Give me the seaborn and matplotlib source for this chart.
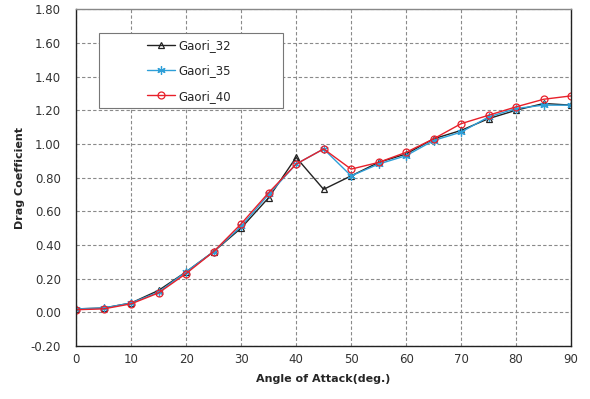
import matplotlib
matplotlib.use("Agg")
import matplotlib.pyplot as plt
from matplotlib.patches import Rectangle
import seaborn as sns
import pandas as pd
from matplotlib.ticker import FuncFormatter, MultipleLocator

angles = [0, 5, 10, 15, 20, 25, 30, 35, 40, 45, 50, 55, 60, 65, 70, 75, 80, 85, 90]
gaori_32 = [0.02, 0.025, 0.055, 0.13, 0.24, 0.36, 0.50, 0.68, 0.92, 0.73, 0.81, 0.89, 0.94, 1.03, 1.08, 1.15, 1.20, 1.24, 1.23]
gaori_35 = [0.02, 0.025, 0.055, 0.12, 0.24, 0.36, 0.51, 0.70, 0.88, 0.97, 0.81, 0.88, 0.93, 1.02, 1.07, 1.16, 1.21, 1.23, 1.23]
gaori_40 = [0.015, 0.02, 0.05, 0.115, 0.23, 0.36, 0.525, 0.71, 0.88, 0.97, 0.85, 0.89, 0.95, 1.03, 1.12, 1.17, 1.22, 1.265, 1.285]
series_names = ["Gaori_32", "Gaori_35", "Gaori_40"]
colors = ["#222222", "#2e9fd8", "#e8202a"]
markers = ["^", "x", "o"]

df = pd.DataFrame({"angle": angles * 3,
                   "cd": gaori_32 + gaori_35 + gaori_40,
                   "series": sum([[n] * len(angles) for n in series_names], [])})

sns.set_style("white")
fig = plt.figure(figsize=(5.9, 3.99), dpi=100)
ax = fig.add_axes([0.129, 0.133, 0.839, 0.844])

for name, c, m in zip(series_names, colors, markers):
    sub = df[df["series"] == name]
    mk = dict(marker=m, markersize=5, markerfacecolor="none", markeredgecolor=c, markeredgewidth=0.9)
    if m == "x":
        mk = dict(marker=(6, 2, 0), markersize=6, markeredgecolor=c, markeredgewidth=0.9)
    sns.lineplot(data=sub, x="angle", y="cd", ax=ax, color=c, linewidth=1.0,
                 label=name, **mk)

ax.set_xlim(0, 90)
ax.set_ylim(-0.2, 1.8)
ax.xaxis.set_major_locator(MultipleLocator(10))
ax.yaxis.set_major_locator(MultipleLocator(0.2))
ax.yaxis.set_major_formatter(FuncFormatter(lambda v, p: f"{v:.2f}"))
ax.grid(True, color="#8a8a8a", linestyle=(0, (3, 2)), linewidth=0.8)
ax.tick_params(axis="both", length=0, labelsize=8.5, colors="#333333")
ax.tick_params(axis="y", pad=11)
ax.tick_params(axis="x", pad=5)
for s in ax.spines.values():
    s.set_color("#222222")
    s.set_linewidth(1.0)
ax.spines["top"].set_color("#888888")

ax.set_xlabel("Angle of Attack(deg.)", fontsize=8, fontweight="bold", labelpad=6)
ax.set_ylabel("Drag Coefficient", fontsize=8, fontweight="bold", labelpad=4)

# legend box
ax.add_patch(Rectangle((0.046, 0.706), 0.372, 0.223, transform=ax.transAxes,
                       facecolor="white", edgecolor="#777777", linewidth=0.8, zorder=4))
leg = ax.legend(loc="upper left", bbox_to_anchor=(0.143, 0.912), fontsize=8.5,
                frameon=False, borderpad=0, labelspacing=1.05, handlelength=2.4,
                handletextpad=0.25, borderaxespad=0)
leg.set_zorder(5)

fig.savefig("out.png", dpi=100)
